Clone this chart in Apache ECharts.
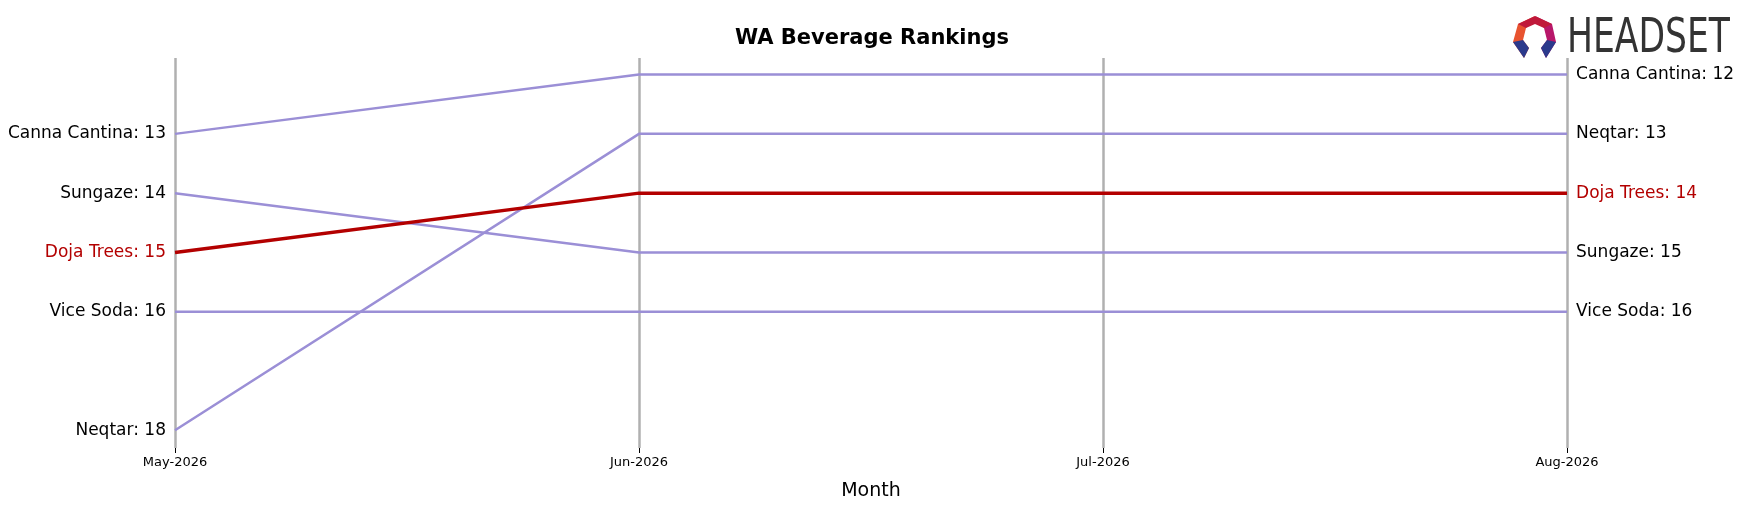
<!DOCTYPE html>
<html><head><meta charset="utf-8">
<script src="https://cdn.jsdelivr.net/npm/echarts@6/dist/echarts.min.js"></script>
<style>html,body{margin:0;padding:0;background:#fff}#c{width:1749px;height:506px}</style>
</head><body><div id="c"></div>
<script>
const months = ['May-2026','Jun-2026','Jul-2026','Aug-2026'];
const brands = ['Canna Cantina','Neqtar','Sungaze','Vice Soda','Doja Trees'];
const cannaCantina = [13,12,12,12];
const neqtar = [18,13,13,13];
const sungaze = [14,15,15,15];
const viceSoda = [16,16,16,16];
const dojaTrees = [15,14,14,14];
const values = [cannaCantina, neqtar, sungaze, viceSoda, dojaTrees];
const highlight = 'Doja Trees';

const series = brands.map((b,i)=>{
  const hl = b===highlight;
  const col = hl ? '#b30000' : '#9b8fd6';
  const vals = values[i];
  return {
    type:'line', name:b, symbol:'circle', symbolSize:0.1, showSymbol:true, z: hl?5:2,
    itemStyle:{color:col},
    lineStyle:{color:col,width:hl?3.5:2.5},
    data: vals.map((v,j)=>{
      const item={value:v};
      if(j===0||j===vals.length-1){
        item.label={show:true,position:j===0?'left':'right',distance:9,
          formatter:b+': '+v,color:hl?'#b30000':'#000',fontSize:17,fontFamily:'DejaVu Sans'};
      }
      return item;
    })
  };
});

const chart = echarts.init(document.getElementById('c'));
chart.setOption({
  animation:false,
  title:{text:'WA Beverage Rankings',left:867,top:23,textAlign:'center',
    textStyle:{fontSize:21,fontWeight:'bold',color:'#000',fontFamily:'DejaVu Sans'}},
  grid:{left:175,right:182,top:58,bottom:54},
  xAxis:{type:'category',data:months,boundaryGap:false,
    name:'Month',nameLocation:'middle',nameGap:34,
    nameTextStyle:{fontSize:19,color:'#000',fontFamily:'DejaVu Sans'},
    axisLine:{show:false},axisTick:{show:true,length:5,lineStyle:{color:'#000'}},
    axisLabel:{fontSize:13,color:'#000',margin:8,fontFamily:'DejaVu Sans'},
    splitLine:{show:true,lineStyle:{color:'#b0b0b0',width:2.5}}},
  yAxis:{type:'value',inverse:true,min:11.72,max:18.3,show:false},
  graphic:[
    {type:'text',x:1567,y:16,scaleX:0.8,style:{text:'HEADSET',fontSize:48,fontFamily:'DejaVu Sans Condensed, sans-serif',fill:'#333'}},
    {type:'polygon',shape:{points:[[1535,16],[1552,24],[1556,42],[1546,58],[1541,48],[1547,40],[1544,28]]},style:{fill:'#b8176a'}},
    {type:'polygon',shape:{points:[[1535,16],[1518,24],[1513,42],[1524,58],[1529,48],[1523,40],[1526,28]]},style:{fill:'#e8532f'}},
    {type:'polygon',shape:{points:[[1535,16],[1552,24],[1544,28],[1535,24],[1526,28],[1518,24]]},style:{fill:'#c0193a'}},
    {type:'polygon',shape:{points:[[1513,42],[1524,58],[1529,48],[1523,40]]},style:{fill:'#2b3a8c'}},
    {type:'polygon',shape:{points:[[1556,42],[1546,58],[1541,48],[1547,40]]},style:{fill:'#2b3a8c'}}
  ],
  series
});
</script></body></html>
